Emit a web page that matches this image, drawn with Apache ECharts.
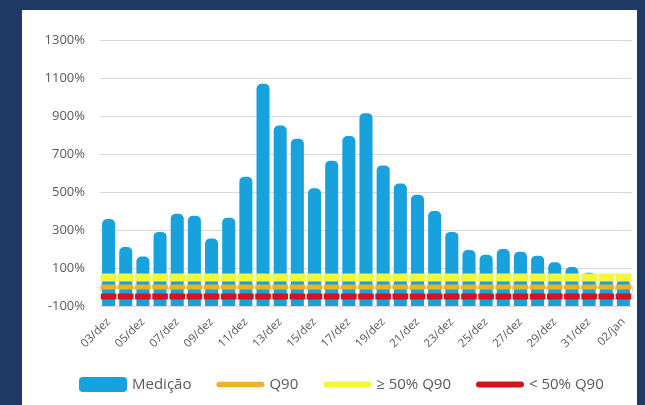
<!DOCTYPE html>
<html>
<head>
<meta charset="utf-8">
<script src="https://cdn.jsdelivr.net/npm/echarts@6/dist/echarts.min.js"></script>
<style>
  html, body { margin: 0; padding: 0; width: 645px; height: 405px; background: #1f3864; overflow: hidden; }
  #panel { position: absolute; left: 22px; top: 10px; width: 615px; height: 395px; background: #ffffff; }
</style>
</head>
<body>
<div id="panel"></div>
<script>
// ---- data ----
var categories = ['03/dez','04/dez','05/dez','06/dez','07/dez','08/dez','09/dez','10/dez','11/dez','12/dez',
  '13/dez','14/dez','15/dez','16/dez','17/dez','18/dez','19/dez','20/dez','21/dez','22/dez',
  '23/dez','24/dez','25/dez','26/dez','27/dez','28/dez','29/dez','30/dez','31/dez','01/jan','02/jan'];
var medicao = [358, 210, 160, 290, 385, 375, 255, 365, 580, 1070,
  850, 780, 520, 665, 795, 915, 640, 545, 485, 400,
  290, 195, 170, 200, 185, 165, 130, 105, 75, 50, 40];
var q90 = [0,0,0,0,0,0,0,0,0,0,0,0,0,0,0,0,0,0,0,0,0,0,0,0,0,0,0,0,0,0,0];
var acima50 = [50,50,50,50,50,50,50,50,50,50,50,50,50,50,50,50,50,50,50,50,50,50,50,50,50,50,50,50,50,50,50];
var abaixo50 = [-50,-50,-50,-50,-50,-50,-50,-50,-50,-50,-50,-50,-50,-50,-50,-50,-50,-50,-50,-50,-50,-50,-50,-50,-50,-50,-50,-50,-50,-50,-50];
var yTicks = { min: -100, max: 1300, step: 200 };

var colBlue = '#17a2de', colOrange = '#efb12c', colYellow = '#f3f73a', colRed = '#d2151c';

var chart = echarts.init(document.getElementById('panel'), null, { renderer: 'canvas', width: 615, height: 395 });

function pairs(arr) { return arr.map(function (v, i) { return [i, v]; }); }

function barItem(params, api) {
  var i = api.value(0), v = api.value(1);
  var top = api.coord([i, v]);
  var bot = api.coord([i, yTicks.min]);
  var w = api.size([1, 0])[0] * 0.76;
  return { type: 'rect', shape: { x: top[0] - w / 2, y: top[1], width: w, height: bot[1] - top[1], r: [5, 5, 0, 0] },
    style: api.style() };
}
function bandItem(thick) {
  return function (params, api) {
    var i = api.value(0), v = api.value(1);
    var c = api.coord([i, v]);
    var w = api.size([1, 0])[0] - 1.5;
    return { type: 'rect', shape: { x: c[0] - w / 2, y: c[1] - thick / 2, width: w, height: thick },
      style: api.style() };
  };
}

var txt = '#595959';
var font = 'Open Sans';

chart.setOption({
  animation: false,
  textStyle: { fontFamily: font },
  grid: { left: 78, right: 5, top: 30, bottom: 99, containLabel: false },
  xAxis: {
    type: 'category', data: categories, boundaryGap: true,
    axisLine: { show: true, lineStyle: { color: '#d9d9d9' } },
    axisTick: { show: true, interval: 1, length: 5, lineStyle: { color: '#d9d9d9' } },
    axisLabel: { interval: 1, rotate: 45, color: txt, fontSize: 11.5, fontFamily: font, margin: 14 },
    splitLine: { show: false }
  },
  yAxis: {
    type: 'value', min: yTicks.min, max: yTicks.max, interval: yTicks.step,
    axisLine: { show: false }, axisTick: { show: false },
    axisLabel: { color: txt, fontSize: 13, fontFamily: font, margin: 15,
      formatter: function (v) { return v + '%'; } },
    splitLine: { show: true, lineStyle: { color: '#d9d9d9', width: 1 } }
  },
  legend: {
    left: 52, top: 362, itemWidth: 48, itemHeight: 15, itemGap: 25,
    textStyle: { color: txt, fontSize: 15, fontFamily: font },
    data: [
      { name: 'Medição', icon: 'roundRect', itemStyle: { color: colBlue } },
      { name: 'Q90', icon: 'path://M2.5,0 h40 a2.5,2.5 0 0 1 0,5 h-40 a2.5,2.5 0 0 1 0,-5 z', itemStyle: { color: colOrange } },
      { name: '≥ 50% Q90', icon: 'path://M3,0 h42 a3,3 0 0 1 0,6 h-42 a3,3 0 0 1 0,-6 z', itemStyle: { color: colYellow } },
      { name: '< 50% Q90', icon: 'path://M3,0 h42 a3,3 0 0 1 0,6 h-42 a3,3 0 0 1 0,-6 z', itemStyle: { color: colRed } }
    ]
  },
  series: [
    { name: 'Medição', type: 'custom', renderItem: barItem, data: pairs(medicao),
      encode: { x: 0, y: 1 }, itemStyle: { color: colBlue }, z: 2 },
    { name: '≥ 50% Q90', type: 'custom', renderItem: bandItem(8), data: pairs(acima50),
      encode: { x: 0, y: 1 }, itemStyle: { color: colYellow }, z: 3 },
    { name: 'Q90', type: 'custom', renderItem: bandItem(5), data: pairs(q90),
      encode: { x: 0, y: 1 }, itemStyle: { color: colOrange }, z: 3 },
    { name: '< 50% Q90', type: 'custom', renderItem: bandItem(6), data: pairs(abaixo50),
      encode: { x: 0, y: 1 }, itemStyle: { color: colRed }, z: 3 }
  ]
});
</script>
</body>
</html>
